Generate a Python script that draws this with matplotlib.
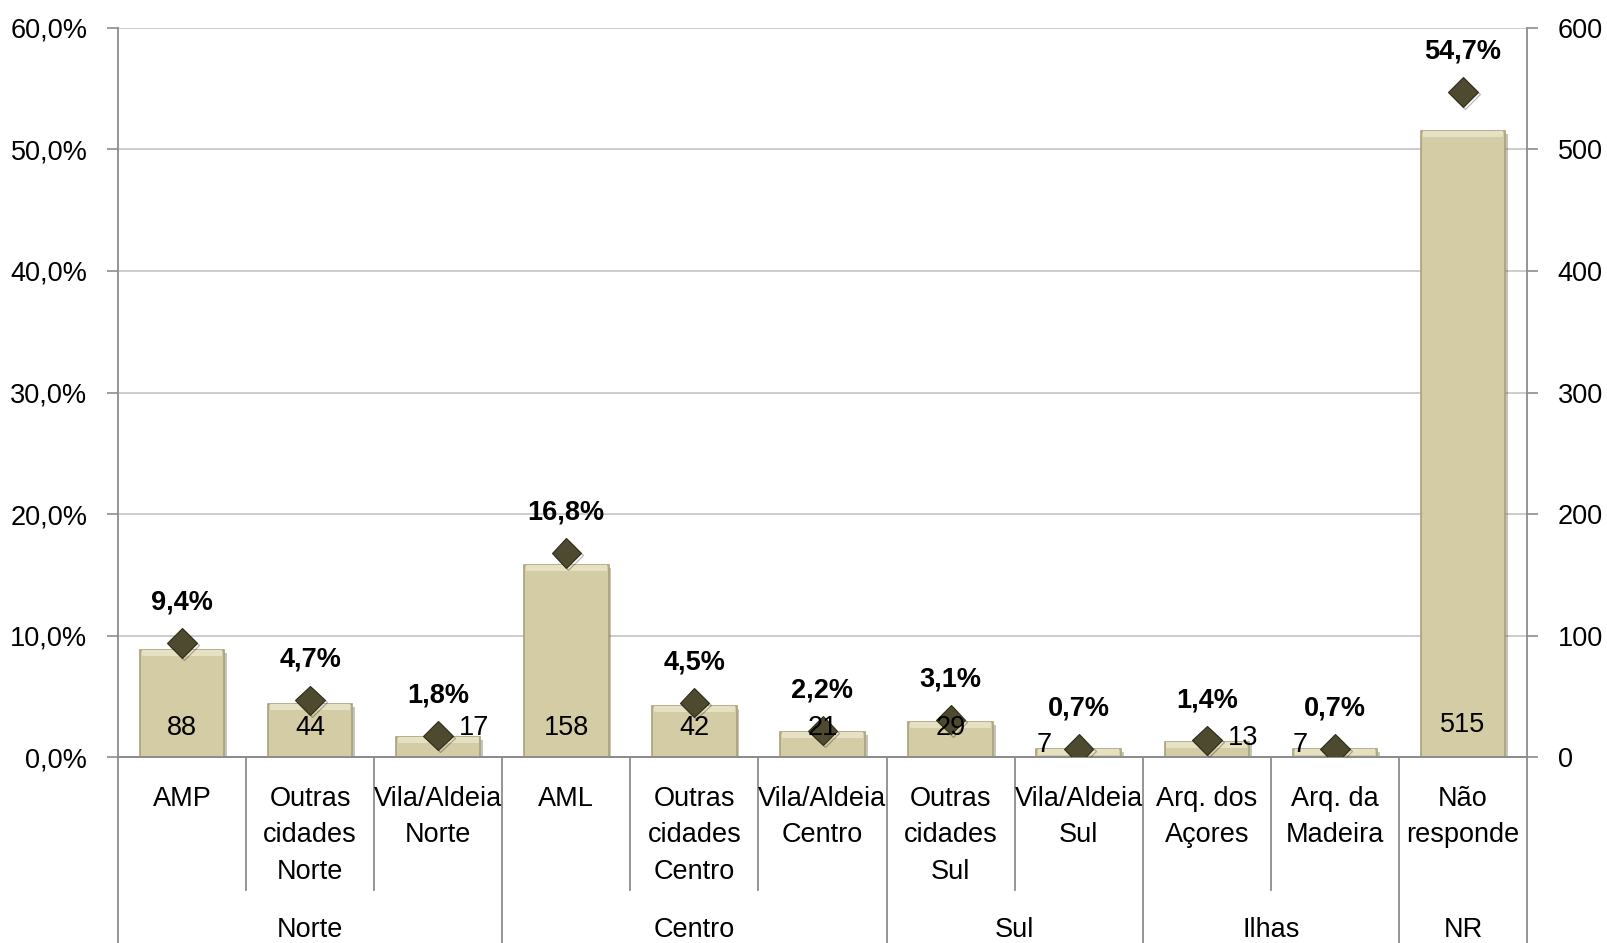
import matplotlib.pyplot as plt
import matplotlib.patheffects as pe

plt.rcParams['font.family'] = ['Liberation Sans Narrow', 'Liberation Sans', 'DejaVu Sans']

categories = ['AMP', 'Outras\ncidades\nNorte', 'Vila/Aldeia\nNorte', 'AML', 'Outras\ncidades\nCentro',
              'Vila/Aldeia\nCentro', 'Outras\ncidades\nSul', 'Vila/Aldeia\nSul', 'Arq. dos\nAçores',
              'Arq. da\nMadeira', 'Não\nresponde']
counts = [88, 44, 17, 158, 42, 21, 29, 7, 13, 7, 515]
percents = [9.4, 4.7, 1.8, 16.8, 4.5, 2.2, 3.1, 0.7, 1.4, 0.7, 54.7]
groups = ['Norte', 'Centro', 'Sul', 'Ilhas', 'NR']
group_sizes = [3, 3, 2, 2, 1]

# label placement for the count labels (offset points)
count_offsets = [(0, 21), (0, 21), (26, 21), (0, 21), (0, 21), (0, 21), (0, 21),
                 (-25, 9), (26, 14), (-25, 9), (0, 23)]

fs = 19.5
bar_col = '#d3cca4'
mk_col = '#4e4a30'
grid_col = '#c8c8c8'
spine_col = '#8c8c8c'

fig = plt.figure(figsize=(16.07, 9.43), dpi=100)
ax = fig.add_axes([117.9 / 1607, 1 - 757.4 / 943, (1527.1 - 117.9) / 1607, (757.4 - 27.7) / 943])
ax2 = ax.twinx()

x = list(range(len(categories)))
n = len(categories)

# bars on the right axis (counts)
ax2.bar(x, counts, width=0.66, color=bar_col, edgecolor='#a9a17c', linewidth=1.2, zorder=2,
        path_effects=[pe.SimplePatchShadow(offset=(2, -2), alpha=0.3), pe.Normal()])
# light bevel along the top of each bar
ax2.bar(x, [min(c, 5) for c in counts], bottom=[c - min(c, 5) for c in counts], width=0.63,
        color='#e6e1c2', linewidth=0, zorder=2.5)
ax2.set_ylim(0, 600)
ax2.set_yticks(range(0, 601, 100))

# markers on the left axis (percent)
ax.set_ylim(0, 60)
ax.set_xlim(-0.5, n - 0.5)
ax.set_yticks(range(0, 61, 10))
ax.set_yticklabels([f'{v:.1f}%'.replace('.', ',') for v in range(0, 61, 10)])
ax.yaxis.grid(True, color=grid_col, linewidth=1.3)
ax.set_axisbelow(True)
ax.set_xticks([])

ax2.plot(x, [p * 10 for p in percents], linestyle='none', marker='D', markersize=15,
         color=mk_col, markeredgecolor='#2e2b1b', markeredgewidth=0.8, zorder=4,
         path_effects=[pe.SimpleLineShadow(offset=(1.5, -1.5), alpha=0.3), pe.Normal()])

for i, p in enumerate(percents):
    ax2.annotate(f'{p:.1f}%'.replace('.', ','), (i, p * 10), xytext=(0, 29), textcoords='offset points',
                 ha='center', va='center', fontsize=fs, fontweight='bold', zorder=5)
for i, c in enumerate(counts):
    dx, dy = count_offsets[i]
    ax2.annotate(str(c), (i, 0), xytext=(dx, dy), textcoords='offset points',
                 ha='center', va='center', fontsize=fs, zorder=5)

for a in (ax, ax2):
    a.spines['top'].set_visible(False)
    for s in ('left', 'right', 'bottom'):
        a.spines[s].set_color(spine_col)
        a.spines[s].set_linewidth(1.3)
    a.tick_params(axis='y', length=8, width=1.2, color=spine_col, labelsize=fs, pad=14)
ax.spines['right'].set_visible(False)
ax2.spines['left'].set_visible(False)

# category labels
xt = ax.get_xaxis_transform()
for i, lab in enumerate(categories):
    ax.text(i, -0.039, lab, transform=xt, ha='center', va='top', fontsize=fs, linespacing=1.53)

# separators
bounds = [0]
for g in group_sizes:
    bounds.append(bounds[-1] + g)
for b in range(n + 1):
    xb = b - 0.5
    y_end = -0.3 if b in bounds else -0.182
    ax.plot([xb, xb], [0, y_end], transform=xt, color=spine_col, linewidth=1.3, clip_on=False)

for gi, g in enumerate(groups):
    cx = (bounds[gi] + bounds[gi + 1]) / 2 - 0.5
    ax.text(cx, -0.237, g, transform=xt, ha='center', va='center', fontsize=fs)

fig.savefig('out.png', dpi=100)
